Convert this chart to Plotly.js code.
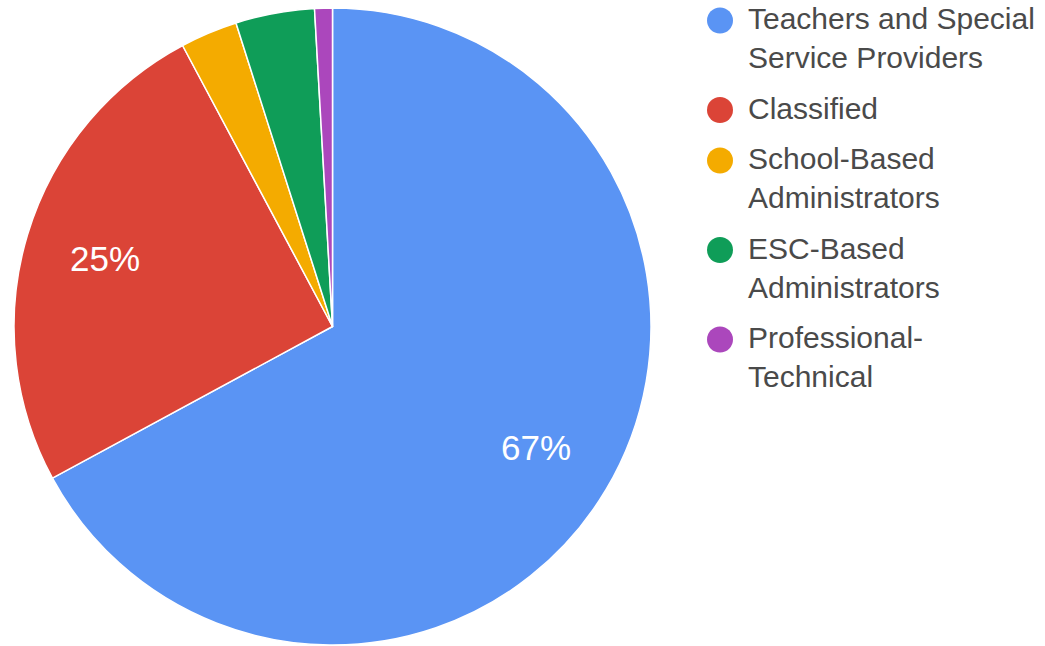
<!DOCTYPE html>
<html>
<head>
<meta charset="utf-8">
<script src="https://cdn.plot.ly/plotly-3.0.1.min.js"></script>
<style>html,body{margin:0;padding:0;background:#fff;}#chart{width:1045px;height:646px;}</style>
</head>
<body>
<div id="chart"></div>
<script>
const categories = [
  "Teachers and Special<br>Service Providers",
  "Classified",
  "School-Based<br>Administrators",
  "ESC-Based<br>Administrators",
  "Professional-<br>Technical"
];
const shares = [67.1, 25.1, 2.9, 4.0, 0.9];
const colors = ["#5a94f4", "#db4437", "#f4ab00", "#0f9d58", "#ab47bc"];

const W = 1045, H = 646;
const FONT = "Liberation Sans, Arial, sans-serif";

// pie geometry (pixels)
const pieLeft = 14, pieRight = 651, pieTop = 8, pieBottom = 645;
const cx = (pieLeft + pieRight) / 2, cy = (pieTop + pieBottom) / 2;
const R = (pieRight - pieLeft) / 2;

const px2x = p => p / W;
const px2y = p => 1 - p / H;

const trace = {
  type: "pie",
  labels: categories,
  values: shares,
  sort: false,
  direction: "clockwise",
  rotation: 0,
  marker: { colors: colors, line: { color: "#ffffff", width: 1.5 } },
  textinfo: "none",
  hoverinfo: "label+percent",
  showlegend: false,
  domain: { x: [px2x(pieLeft), px2x(pieRight)], y: [px2y(pieBottom), px2y(pieTop)] }
};

const annotations = [];
const shapes = [];

// percentage labels, placed along each slice's middle angle
const total = shares.reduce((a, b) => a + b, 0);
let cum = 0;
shares.forEach(v => {
  const frac = v / total;
  const mid = (cum + frac / 2) * 2 * Math.PI;
  cum += frac;
  if (frac < 0.05) return;
  const r = 0.745 * R;
  const x = cx + r * Math.sin(mid);
  const y = cy - r * Math.cos(mid);
  annotations.push({
    xref: "paper", yref: "paper", x: px2x(x), y: px2y(y),
    xanchor: "center", yanchor: "middle", showarrow: false,
    text: Math.round(frac * 100) + "%",
    font: { family: FONT, size: 35, color: "#ffffff" }
  });
});

// legend with round swatches
const legendFont = 30, lineH = 39, entryGap = 11.5;
const dotX = 720, dotR = 13, textX = 746;
let lineY = 20.5;
categories.forEach((name, i) => {
  const nLines = name.split("<br>").length;
  shapes.push({
    type: "circle", xref: "paper", yref: "paper",
    x0: px2x(dotX - dotR), x1: px2x(dotX + dotR),
    y0: px2y(lineY + dotR), y1: px2y(lineY - dotR),
    fillcolor: colors[i], line: { width: 0 }
  });
  annotations.push({
    xref: "paper", yref: "paper", x: px2x(textX), y: px2y(lineY - lineH / 2 - 1),
    xanchor: "left", yanchor: "top", align: "left", showarrow: false,
    text: name,
    font: { family: FONT, size: legendFont, color: "#4a4a4a" }
  });
  lineY += nLines * lineH + entryGap;
});

const layout = {
  width: W,
  height: H,
  margin: { l: 0, r: 0, t: 0, b: 0 },
  paper_bgcolor: "#ffffff",
  showlegend: false,
  font: { family: FONT },
  annotations: annotations,
  shapes: shapes
};

Plotly.newPlot("chart", [trace], layout, { displayModeBar: false, staticPlot: true });
</script>
</body>
</html>
